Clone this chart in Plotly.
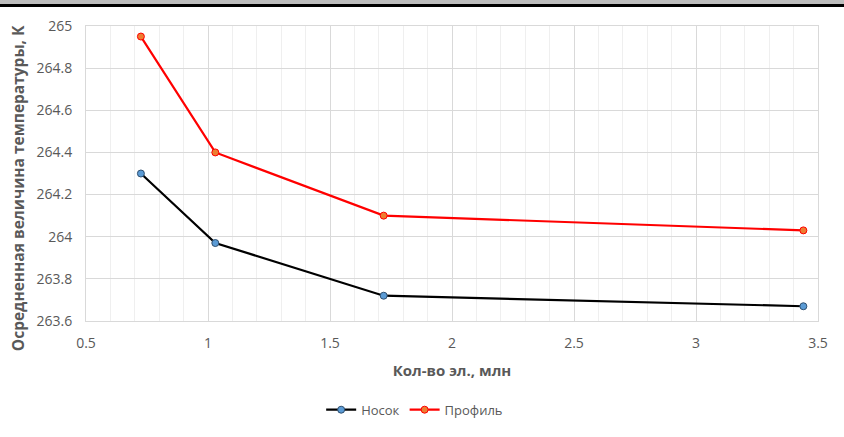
import plotly.graph_objects as go

elements = [0.725, 1.03, 1.72, 3.44]
nosok = [264.30, 263.97, 263.72, 263.67]
profil = [264.95, 264.40, 264.10, 264.03]

font_family = "Open Sans, Liberation Sans, sans-serif"
grey = '#595959'

fig = go.Figure()
fig.add_trace(go.Scatter(x=elements, y=nosok, name='Носок', mode='lines+markers',
                         line=dict(color='black', width=2.2),
                         marker=dict(size=7, color='#5b9bd5', line=dict(color='#2f4f6f', width=1))))
fig.add_trace(go.Scatter(x=elements, y=profil, name='Профиль', mode='lines+markers',
                         line=dict(color='#ff0000', width=2.2),
                         marker=dict(size=7, color='#ed7d31', line=dict(color='#ff0000', width=1))))

fig.update_xaxes(range=[0.5, 3.5], dtick=0.5, showgrid=True, gridcolor='#d9d9d9', gridwidth=1,
                 minor=dict(dtick=0.1, showgrid=True, gridcolor='#efefef', gridwidth=1),
                 showline=True, linecolor='#d9d9d9', linewidth=1, mirror=True, zeroline=False,
                 ticks='', tickfont=dict(size=14, color=grey), ticklabelstandoff=9, automargin=False,
                 title=dict(text='<b>Кол-во эл., млн</b>', font=dict(size=15, color=grey), standoff=14))
fig.update_yaxes(range=[263.6, 265], dtick=0.2, showgrid=True, gridcolor='#d9d9d9', gridwidth=1,
                 showline=True, linecolor='#d9d9d9', linewidth=1, mirror=True, zeroline=False,
                 ticks='', tickfont=dict(size=14, color=grey), ticklabelstandoff=10, automargin=False)

# y title placed as annotation (it sits lower than the plot centre in the original)
fig.add_annotation(text='<b>Осредненная величина температуры, К</b>', textangle=-90,
                   xref='paper', yref='paper', x=-0.093, y=0.45, xanchor='center', yanchor='middle',
                   showarrow=False, font=dict(size=15.5, color=grey))

# grey band and black line at the top of the window
fig.add_shape(type='rect', xref='paper', yref='paper', xsizemode='pixel', ysizemode='pixel',
              xanchor=0, yanchor=1, x0=-86, x1=760, y0=22, y1=28, fillcolor='#bdbdbd', line_width=0, layer='above')
fig.add_shape(type='rect', xref='paper', yref='paper', xsizemode='pixel', ysizemode='pixel',
              xanchor=0, yanchor=1, x0=-86, x1=760, y0=19, y1=22, fillcolor='black', line_width=0, layer='above')

fig.update_layout(width=844, height=437, margin=dict(l=86, r=26, t=26, b=108),
                  plot_bgcolor='white', paper_bgcolor='white',
                  font=dict(family=font_family, color=grey),
                  legend=dict(orientation='h', x=0.449, xanchor='center', y=-0.25, yanchor='top',
                              font=dict(size=13, color=grey)),
                  showlegend=True)

fig.write_html("out.html", config={'displayModeBar': False},
               post_script="document.body.style.margin = '0';")
